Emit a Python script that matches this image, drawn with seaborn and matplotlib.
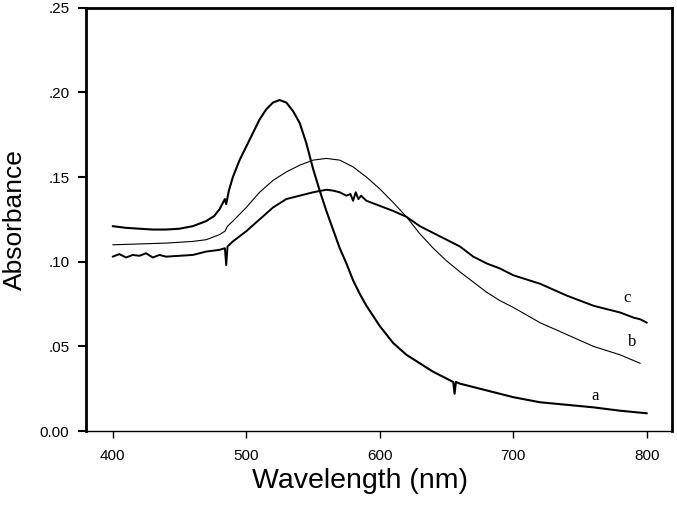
import pandas as pd
import matplotlib
matplotlib.use("Agg")
import matplotlib.pyplot as plt
import seaborn as sns

# spectra (wavelength in nm, absorbance)
wl_a = [400, 410, 420, 430, 440, 450, 460, 470, 476, 480, 484, 485, 487, 490,
        495, 500, 505, 510, 515, 520, 525, 530, 535, 540, 545, 550, 555, 560,
        565, 570, 575, 580, 585, 590, 600, 610, 620, 630, 640, 650, 655, 656,
        657, 660, 670, 680, 690, 700, 720, 740, 760, 780, 800]
abs_a = [0.121, 0.120, 0.1195, 0.119, 0.119, 0.1195, 0.121, 0.124, 0.127, 0.131,
         0.137, 0.134, 0.142, 0.150, 0.160, 0.168, 0.176, 0.184, 0.190, 0.194,
         0.1955, 0.194, 0.189, 0.182, 0.170, 0.155, 0.142, 0.130, 0.119, 0.108,
         0.099, 0.089, 0.081, 0.074, 0.062, 0.052, 0.045, 0.040, 0.035, 0.031,
         0.029, 0.022, 0.029, 0.028, 0.026, 0.024, 0.022, 0.020, 0.017, 0.0155,
         0.014, 0.012, 0.0105]

wl_b = [400, 420, 440, 460, 470, 480, 484, 486, 490, 500, 510, 520, 530, 540,
        550, 560, 570, 580, 590, 600, 610, 620, 630, 640, 650, 660, 670, 680,
        690, 700, 720, 740, 760, 780, 795]
abs_b = [0.110, 0.1105, 0.111, 0.112, 0.113, 0.116, 0.118, 0.121, 0.124, 0.132,
         0.141, 0.148, 0.153, 0.157, 0.160, 0.161, 0.160, 0.156, 0.150, 0.143,
         0.135, 0.1265, 0.1165, 0.108, 0.1005, 0.094, 0.088, 0.082, 0.077, 0.073,
         0.064, 0.057, 0.050, 0.045, 0.040]

wl_c = [400, 405, 410, 415, 420, 425, 430, 435, 440, 450, 460, 470, 480, 484,
        485, 486, 490, 500, 510, 520, 530, 540, 550, 560, 565, 570, 575, 578,
        580, 582, 584, 586, 590, 600, 610, 620, 630, 640, 650, 660, 670, 680,
        690, 700, 720, 740, 760, 780, 790, 795, 800]
abs_c = [0.103, 0.1045, 0.1025, 0.104, 0.1035, 0.105, 0.1025, 0.104, 0.103,
         0.1035, 0.104, 0.106, 0.107, 0.108, 0.098, 0.109, 0.112, 0.118, 0.125,
         0.132, 0.137, 0.139, 0.141, 0.1425, 0.142, 0.141, 0.139, 0.140, 0.136,
         0.141, 0.137, 0.139, 0.136, 0.133, 0.130, 0.1265, 0.121, 0.117, 0.113,
         0.109, 0.103, 0.099, 0.096, 0.092, 0.087, 0.080, 0.074, 0.070, 0.067,
         0.066, 0.064]

x_ticks = [400, 500, 600, 700, 800]
y_ticks = [0.00, 0.05, 0.10, 0.15, 0.20, 0.25]
y_tick_labels = ["0.00", ".05", ".10", ".15", ".20", ".25"]

sns.set_style("ticks")
plt.rcParams["font.family"] = ["Liberation Sans", "DejaVu Sans"]

fig = plt.figure(figsize=(6.77, 5.15), dpi=100)
ax = fig.add_axes([0.127, 0.163, 0.866, 0.822])

curves = [(wl_a, abs_a, 1.5), (wl_b, abs_b, 0.8), (wl_c, abs_c, 1.4)]
for wl, ab, lw in curves:
    df = pd.DataFrame({"wl": wl, "abs": ab})
    sns.lineplot(data=df, x="wl", y="abs", ax=ax, color="black", lw=lw,
                 estimator=None, sort=False)

# curve letters
for x, y, s in [(761, 0.0207, "a"), (789, 0.0526, "b"), (785, 0.0786, "c")]:
    ax.text(x, y, s, fontsize=12, family="Liberation Serif", ha="center",
            va="center", color="black")

ax.set_xlim(380, 819)
ax.set_ylim(0, 0.25)
ax.set_xticks(x_ticks)
ax.set_yticks(y_ticks)
ax.set_yticklabels(y_tick_labels)

for side in ["left", "top", "right"]:
    ax.spines[side].set_linewidth(2)
    ax.spines[side].set_color("black")
ax.spines["bottom"].set_linewidth(1)
ax.spines["bottom"].set_color("black")

ax.tick_params(axis="y", direction="out", length=6, width=1.5, pad=6, labelsize=11, colors="black")
ax.tick_params(axis="x", direction="out", length=5, width=1, pad=8, labelsize=11, colors="black")

ax.set_xlabel("Wavelength (nm)", fontsize=20.5, color="black")
ax.set_ylabel("Absorbance", fontsize=19, color="black")
ax.xaxis.set_label_coords(0.468, -0.088)
ax.yaxis.set_label_coords(-0.101, 0.5)

fig.savefig("out.png", dpi=100)
